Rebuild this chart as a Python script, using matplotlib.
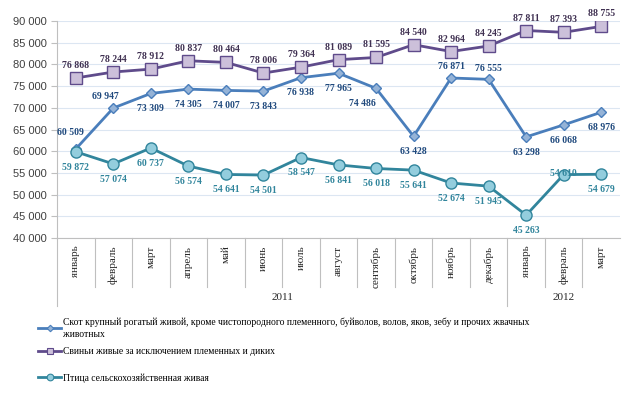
import matplotlib.pyplot as plt
from matplotlib.lines import Line2D
import matplotlib.transforms as mtransforms

months = ['январь', 'февраль', 'март', 'апрель', 'май', 'июнь', 'июль', 'август',
          'сентябрь', 'октябрь', 'ноябрь', 'декабрь', 'январь', 'февраль', 'март']
years = ['2011', '2012']
year_sizes = [12, 3]

cattle = [60509, 69947, 73309, 74305, 74007, 73843, 76938, 77965, 74486, 63428,
          76871, 76555, 63298, 66068, 68976]
pigs = [76868, 78244, 78912, 80837, 80464, 78006, 79364, 81089, 81595, 84540,
        82964, 84245, 87811, 87393, 88755]
poultry = [59872, 57074, 60737, 56574, 54641, 54501, 58547, 56841, 56018, 55641,
           52674, 51945, 45263, 54610, 54679]

names = ['Скот крупный рогатый живой, кроме чистопородного племенного, буйволов, волов, яков, зебу и прочих жвачных\nживотных',
         'Свиньи живые за исключением племенных и диких',
         'Птица сельскохозяйственная живая']

# label placement per point: (dx, dy) offsets in points
cattle_pos = [(-4, 12), (-6, 8), (0, -11), (0, -11), (0, -11), (0, -11), (0, -11), (0, -11),
              (-10, -11), (0, -11), (0, 8), (0, 8), (0, -11), (0, -11), (0, -11)]
pigs_pos = [(0, 9)] * 15
poultry_pos = [(0, -11)] * 13 + [(0, 1), (0, -11)]

serif = 'Liberation Serif'


def fmt(v):
    return f'{v:,}'.replace(',', ' ')


fig = plt.figure(figsize=(6.24, 3.94), dpi=100)
ax = fig.add_axes([57 / 624, 1 - 238 / 394, 563 / 624, 217 / 394])

x = list(range(len(months)))
styles = [
    (cattle, cattle_pos, '#4a7ebb', 'D', '#95b3d7', 5.5, '#1f497d'),
    (pigs, pigs_pos, '#5f4b8b', 's', '#ccc0da', 8, '#403152'),
    (poultry, poultry_pos, '#31859c', 'o', '#93cddd', 8, '#31859c'),
]
handles = []
for (vals, pos, col, mk, fc, ms, tcol), name in zip(styles, names):
    ax.plot(x, vals, color=col, lw=2, marker=mk, ms=ms, mfc=fc, mec=col, mew=1, zorder=3)
    for xi, v, (dx, dy) in zip(x, vals, pos):
        ax.annotate(fmt(v), (xi, v), xytext=(dx, dy), textcoords='offset points',
                    ha='center', va='center', fontsize=7, fontweight='bold',
                    family=serif, color=tcol, zorder=4)
    handles.append(Line2D([], [], color=col, lw=2, marker=mk, ms=ms * 0.6,
                          mfc=fc, mec=col, mew=0.8, label=name))

ax.set_xlim(-0.5, len(months) - 0.5)
ax.set_ylim(40000, 90000)
ax.set_yticks(range(40000, 90001, 5000))
ax.set_yticklabels([fmt(v) for v in range(40000, 90001, 5000)],
                   fontsize=8, color='#404040', family='Liberation Sans')
ax.yaxis.grid(True, color='#dce6f2', lw=0.8)
ax.set_axisbelow(True)
ax.set_xticks([])
ax.tick_params(axis='y', length=4, color='#bfbfbf', width=0.8)
for s in ['top', 'right']:
    ax.spines[s].set_visible(False)
for s in ['left', 'bottom']:
    ax.spines[s].set_color('#bfbfbf')
    ax.spines[s].set_linewidth(0.8)

# category axis: month labels, separators, years
trans = mtransforms.blended_transform_factory(ax.transData, ax.transAxes)
for xi, m in zip(x, months):
    ax.text(xi, -0.035, m, rotation=90, ha='center', va='top', fontsize=8,
            family=serif, color='#262626', transform=trans)
for k in range(1, len(months)):
    low = -0.313 if k == year_sizes[0] else -0.226
    ax.plot([k - 0.5, k - 0.5], [0, low], color='#bfbfbf', lw=0.8,
            transform=trans, clip_on=False)
ax.plot([-0.5, -0.5], [0, -0.313], color='#bfbfbf', lw=0.8,
        transform=trans, clip_on=False)
start = 0
for yr, n in zip(years, year_sizes):
    ax.text(start + (n - 1) / 2, -0.276, yr, ha='center', va='center', fontsize=8,
            family=serif, color='#262626', transform=trans)
    start += n

# legend below the chart, one block per entry to keep the original spacing
leg_kw = dict(loc='center left', frameon=False, prop={'family': serif, 'size': 6.9},
              handlelength=2.4, handletextpad=0.25, borderaxespad=0, borderpad=0)
for h, yc in zip(handles, [328, 352, 378]):
    leg = fig.legend(handles=[h], bbox_to_anchor=(38 / 624, 1 - yc / 394), **leg_kw)
    for t in leg.get_texts():
        t.set_linespacing(1.45)

fig.savefig('out.png', dpi=100)
